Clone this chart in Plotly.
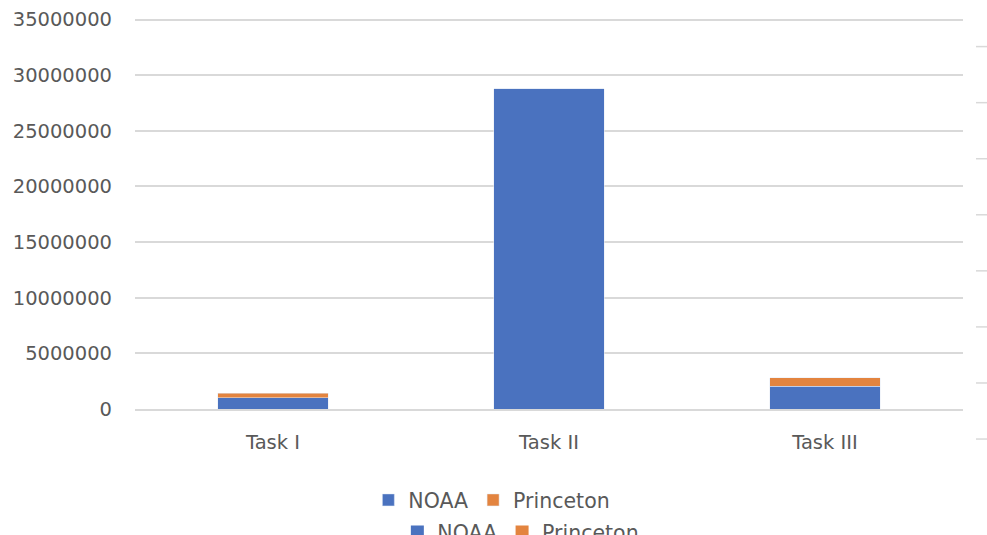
import plotly.graph_objects as go

categories = ["Task I", "Task II", "Task III"]
noaa = [1020000, 28790000, 2030000]
princeton = [390000, 0, 760000]
y_ticks = [0, 5000000, 10000000, 15000000, 20000000, 25000000, 30000000, 35000000]

BLUE = "#4A72BF"
ORANGE = "#E3843F"
TXT = "#595959"
FONT = "DejaVu Sans"

fig = go.Figure()
fig.add_trace(go.Bar(x=categories, y=noaa, name="NOAA", marker_color=BLUE, legend="legend"))
fig.add_trace(go.Bar(x=categories, y=princeton, name="Princeton", marker_color=ORANGE, legend="legend"))
# ghost legend of the chart behind (cut off at bottom)
fig.add_trace(go.Scatter(x=[None], y=[None], mode="markers", name="NOAA",
                         marker=dict(symbol="square", size=13, color=BLUE), legend="legend2"))
fig.add_trace(go.Scatter(x=[None], y=[None], mode="markers", name="Princeton",
                         marker=dict(symbol="square", size=13, color=ORANGE), legend="legend2"))

W, H = 987, 535
L, R, B = 135, 24, 126
T = 14.44
plot_h = H - T - B
y_top = 35500000
zero_px = H - B

# short tick marks from the chart behind, on the right edge
shapes = []
for k in range(8):
    ypix = 47 + 56 * k
    yp = (zero_px - ypix) / plot_h
    shapes.append(dict(type="line", xref="paper", yref="paper",
                       x0=(976 - L) / (W - L - R), x1=(988 - L) / (W - L - R),
                       y0=yp, y1=yp, line=dict(color="#D9D9D9", width=1.5)))

fig.update_layout(
    width=W, height=H,
    margin=dict(l=L, r=R, t=T, b=B, autoexpand=False),
    barmode="stack",
    bargap=0.6,
    showlegend=True,
    plot_bgcolor="white", paper_bgcolor="white",
    font=dict(family=FONT, size=19, color=TXT),
    shapes=shapes,
    legend=dict(orientation="h", x=0.431, xanchor="center",
                y=-(500 - zero_px) / plot_h, yanchor="middle",
                font=dict(family=FONT, size=20.5, color=TXT),
                traceorder="normal", bgcolor="rgba(0,0,0,0)"),
    legend2=dict(orientation="h", x=0.466, xanchor="center",
                 y=-(532 - zero_px) / plot_h, yanchor="middle",
                 font=dict(family=FONT, size=20.5, color=TXT),
                 traceorder="normal", bgcolor="rgba(0,0,0,0)"),
    xaxis=dict(showgrid=False, showline=True, linecolor="#D9D9D9", linewidth=1.5,
               ticks="", ticklabelstandoff=15, tickfont=dict(size=19.5, color=TXT),
               automargin=False),
    yaxis=dict(range=[0, y_top], tickvals=y_ticks, ticktext=[str(v) for v in y_ticks],
               showgrid=True, gridcolor="#D9D9D9", gridwidth=1.5, zeroline=False,
               showline=False, ticks="", ticklabelstandoff=22,
               tickfont=dict(size=19.5, color=TXT), automargin=False),
)

fig.write_html("out.html")
